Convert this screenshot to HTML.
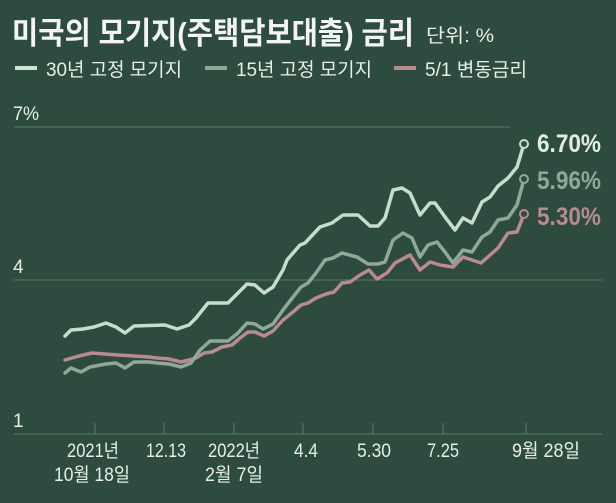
<!DOCTYPE html>
<html><head><meta charset="utf-8"><style>
html,body{margin:0;padding:0;background:#2d4b3f;}
svg{display:block;font-family:"Liberation Sans","Noto Sans CJK KR",sans-serif;}
</style></head><body>
<svg width="616" height="503" viewBox="0 0 616 503">
<rect width="616" height="503" fill="#2d4b3f"/>
<text x="12" y="44" font-size="31" font-weight="bold" fill="#f2f5f2" textLength="402" lengthAdjust="spacingAndGlyphs">미국의 모기지(주택담보대출) 금리</text>
<text x="426" y="42" font-size="19" fill="#e8efe9" textLength="68" lengthAdjust="spacingAndGlyphs">단위: %</text>
<g font-size="19" fill="#e8efe9">
<line x1="15" y1="68" x2="37" y2="68" stroke="#cfe3d3" stroke-width="4"/>
<text x="46" y="76" textLength="136" lengthAdjust="spacingAndGlyphs">30년 고정 모기지</text>
<line x1="205" y1="68" x2="227" y2="68" stroke="#8fa89a" stroke-width="4"/>
<text x="236" y="76" textLength="136" lengthAdjust="spacingAndGlyphs">15년 고정 모기지</text>
<line x1="394" y1="68" x2="416" y2="68" stroke="#b98a8e" stroke-width="4"/>
<text x="425" y="76" textLength="102" lengthAdjust="spacingAndGlyphs">5/1 변동금리</text>
</g>
<g stroke="#5d7a6a" stroke-width="1">
<line x1="14" y1="127" x2="510" y2="127"/>
<line x1="14" y1="280" x2="602" y2="280"/>
<line x1="14" y1="434" x2="602" y2="434"/>
<line x1="95" y1="423" x2="95" y2="434"/><line x1="164" y1="423" x2="164" y2="434"/>
<line x1="234" y1="423" x2="234" y2="434"/><line x1="303" y1="423" x2="303" y2="434"/>
<line x1="373" y1="423" x2="373" y2="434"/><line x1="443" y1="423" x2="443" y2="434"/>
<line x1="526" y1="423" x2="526" y2="434"/>
</g>
<g font-size="19" fill="#e8efe9">
<text x="13" y="120" textLength="26" lengthAdjust="spacingAndGlyphs">7%</text>
<text x="13" y="273">4</text>
<text x="13" y="427">1</text>
</g>
<g font-size="19" fill="#e8efe9" text-anchor="middle">
<text x="93" y="457" textLength="52" lengthAdjust="spacingAndGlyphs">2021년</text><text x="92" y="481" textLength="76" lengthAdjust="spacingAndGlyphs">10월 18일</text>
<text x="166" y="457" textLength="40" lengthAdjust="spacingAndGlyphs">12.13</text>
<text x="234" y="457" textLength="52" lengthAdjust="spacingAndGlyphs">2022년</text><text x="234" y="481" textLength="58" lengthAdjust="spacingAndGlyphs">2월 7일</text>
<text x="306" y="457" textLength="24" lengthAdjust="spacingAndGlyphs">4.4</text>
<text x="374" y="457" textLength="34" lengthAdjust="spacingAndGlyphs">5.30</text>
<text x="443" y="457" textLength="32" lengthAdjust="spacingAndGlyphs">7.25</text>
<text x="546" y="457" textLength="68" lengthAdjust="spacingAndGlyphs">9월 28일</text>
</g>
<g fill="none" stroke-width="3.5" stroke-linejoin="round" stroke-linecap="round">
<polyline stroke="#b98a8e" points="65,360 79,356 92,353 118,355 134,356 149,357 157,358 169,359 181,362 189,360 196,358 204,353 212,352 222,347 232,345 240,338 248,332 255,332 264,336 273,331 283,320 293,312 301,305 308,303 316,298 326,294 334,292 342,283 350,282 360,275 369,270 377,279 387,273 395,263 410,255 420,270 430,262 440,265 453,267 463,257 481,263 498,248 508,233 517,232 524,214"/>
<polyline stroke="#8fa89a" points="65,373 71,368 81,372 90,367 106,364 116,363 125,368 134,362 149,362 157,363 169,364 181,367 191,363 200,350 210,341 228,341 238,333 247,323 255,324 263,329 273,324 283,310 293,297 301,287 308,283 316,273 325,260 333,258 342,253 357,257 368,264 378,264 385,262 393,240 403,233 412,238 420,257 428,245 437,242 445,252 453,263 463,250 472,252 482,237 490,232 498,220 508,218 517,205 524,179"/>
<polyline stroke="#c8dccd" points="65,336 71,330 83,329 94,327 106,323 116,327 125,333 134,326 165,325 177,329 189,325 196,318 208,303 228,303 236,295 247,284 255,285 264,293 273,287 283,270 287,260 300,245 305,243 320,227 332,223 343,215 358,215 370,226 378,226 385,218 393,190 402,188 410,193 420,215 430,203 435,203 445,217 455,230 463,218 472,223 482,202 490,197 498,186 508,178 517,167 524,144"/>
</g>
<g fill="#2d4b3f" stroke-width="2">
<circle cx="524" cy="144" r="4" stroke="#c8dccd"/>
<circle cx="524" cy="179" r="4" stroke="#8fa89a"/>
<circle cx="524" cy="214" r="4" stroke="#b98a8e"/>
</g>
<g font-size="25" font-weight="bold">
<text x="537" y="152" fill="#e3ede5" textLength="64" lengthAdjust="spacingAndGlyphs">6.70%</text>
<text x="537" y="189" fill="#8fa89a" textLength="64" lengthAdjust="spacingAndGlyphs">5.96%</text>
<text x="537" y="225" fill="#b98a8e" textLength="64" lengthAdjust="spacingAndGlyphs">5.30%</text>
</g>
</svg>
</body></html>
